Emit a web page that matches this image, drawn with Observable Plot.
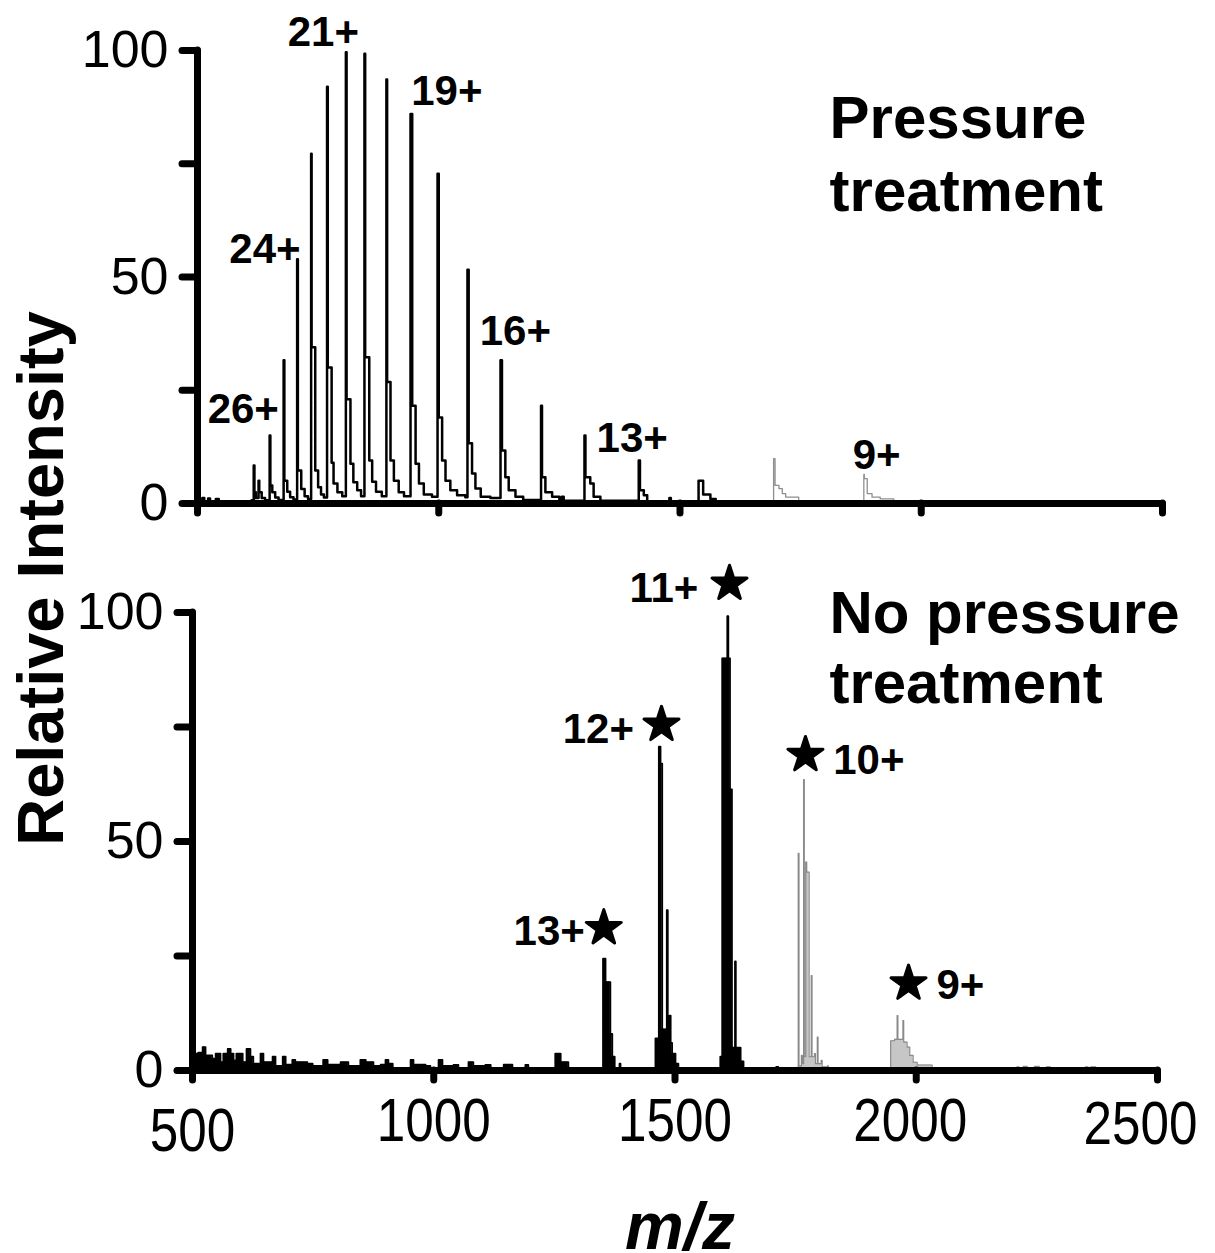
<!DOCTYPE html>
<html><head><meta charset="utf-8">
<script src="https://cdn.jsdelivr.net/npm/d3@7"></script>
<script src="https://cdn.jsdelivr.net/npm/@observablehq/plot@0.6"></script>
<style>
html,body{margin:0;padding:0;background:#fff;}
#wrap{position:relative;width:1215px;height:1253px;overflow:hidden;}
#wrap svg{position:absolute;left:0;overflow:visible;}
</style></head><body><div id="wrap"></div>
<script>
// ---------- axes ----------
const xTicks = [500, 1000, 1500, 2000, 2500];
const xTickLabels = ["500", "1000", "1500", "2000", "2500"];
const yTicks = [0, 25, 50, 75, 100];
const yTickLabels = [0, 50, 100];

// ---------- top panel: pressure treatment [m/z, relative intensity] ----------
const topBlack = [
  [500,0.5],[510,1.2],[514,0.5],[522,1.1],[526,0.5],[538,1.0],[544,0.5],[612,0.7],
  [616.5,8.4],[618,2.5],[621,1.2],[626.5,5],[628,2.5],[633,1.2],[640,0.7],
  [649.5,15],[651,4],[655,2.5],[661,1.3],[668,0.8],
  [678.5,31.6],[680,5],[686,2.6],[692,1.4],[699,0.9],
  [706.5,53.9],[708,7.3],[715,3.2],[722,1.6],[729,1.0],
  [735.5,77.2],[736.5,34.5],[744,7.3],[750,3.6],[756,2.0],[762,1.3],
  [768.5,92],[770,30],[778,9],[782,4.4],[790,2.5],[800,1.6],
  [807.5,99.6],[809,23],[817,8.8],[823,4.7],[831,2.9],[839,1.6],
  [846,99.3],[847.5,32.3],[856,9.5],[862,4.8],[870,2.6],[882,1.6],
  [891.5,93.6],[893,26.8],[900,9.5],[907,5],[917,2.5],[928,1.6],
  [941.5,86],[945,21.6],[952,8.8],[959,4.4],[969,2],[986,1.5],
  [997.5,72.8],[1000,19],[1007,9.5],[1014,5],[1024,2.9],[1038,1.8],[1055,1.4],
  [1059.5,51.6],[1062,13.3],[1069,6.6],[1076,3.3],[1087,1.5],[1107,1.2],
  [1128,31.6],[1131,11.7],[1138,5.8],[1145,2.9],[1159,1.5],[1175,0.8],
  [1212,21.6],[1214,5.8],[1221,2.5],[1235,1.5],[1250,0.7],[1255,1.5],[1259,0.6],
  [1302,15],[1304,5.8],[1314,4.4],[1321,1.5],[1335,0.6],
  [1414.5,9.5],[1417,2.9],[1425,1.8],[1432,0.5],[1478,1.2],[1481,0.5],
  [1538.5,5],[1548,2],[1563,1],[1574,0.4],[1670,0.4]
];
const topGray = [
  [1670,0.4],[1694,9.9],[1697,4],[1705,3.3],[1712,2.2],[1719,1.4],[1746,0.4],
  [1881,6.4],[1882,5.5],[1888,2.2],[1898,1.4],[1915,1],[1943,0.4],[1960,0.4]
];
const topLabelText = ["26+", "24+", "21+", "19+", "16+", "13+", "9+"];
const topLabelMz   = [521, 566, 687, 943, 1085, 1327, 1858];
const topLabelY    = [17.7, 53.2, 101.1, 87.9, 34.9, 11.3, 7.7];
const topTitle   = ["Pressure", "treatment"];
const topTitleMz = [1810, 1810];
const topTitleY  = [80.6, 64.5];

// ---------- bottom panel: no pressure treatment ----------
const bottomBlack = [
  [500,3.7],[506,3.7],[512,3.9],[521,5.1],[527,3.3],[541,2.6],[548,3.7],[558,1.8],[564,3.7],
  [573,4.7],[579,3.7],[585,2.2],[591,3.7],[604,1.8],[612,4.7],[620,3],[626,1.5],[641,3.7],
  [647,1.8],[666,3],[672,1],[687,3],[693,1.3],[707,2.3],[713,1.8],[738,1.5],[749,1],
  [771,2.3],[780,1.3],[807,1.8],[823,1],[848,2.3],[859,1.8],[875,1],[890,1.3],[900,2.3],
  [906,1.5],[915,0.3],[952,2.3],[958,1.3],[983,1],[993,0.3],[1010,2.3],[1018,1],[1041,1.2],
  [1051,0.3],[1072,1.8],[1082,1],[1107,1.2],[1118,0.3],[1145,1.3],[1163,0.3],[1190,1.2],
  [1196,0.3],[1252,3.7],[1263,1.8],[1279,0.3],[1340,0],
  [1351,24.4],[1356,19.3],[1366,8],[1370,3],[1375,0.3],[1385,1.5],[1387,0],
  [1458,0],[1459.5,7],[1466.5,70.7],[1470,67],[1473.5,9],[1483,35],[1485,9],[1488.5,12],
  [1491,6],[1494,3.7],[1501,1.5],[1507,0],
  [1592,0],[1594,3],[1598,90],[1608.5,99.2],[1610.5,90],[1614,61.4],[1618,5],[1624.5,23.8],
  [1626,5],[1636,2],[1642,0],
  [1710,0.8],[1714,0],[1745,0]
];
const bottomGray = [
  [1745,0],[1755.5,47.4],[1757,1],[1762,3.3],[1764,1.5],[1766.5,63.5],[1768,3],[1771,45.5],
  [1773,43.3],[1778,3],[1782.5,20.7],[1784,3],[1789,3.7],[1791,1.5],[1795,7.3],[1796.5,1.5],
  [1803,2.2],[1805,0.8],[1816,1],[1818,0],
  [1947,6.5],[1955,6.8],[1960.5,12],[1962,6.8],[1972.5,10.9],[1974,6.2],[1981,5.1],
  [1986.5,3.3],[1993.5,1.8],[2002,1.2],[2033,0],
  [2209,0.8],[2213,0.5],[2222,0.9],[2230,0.6],[2245,0.9],[2255,0.5],[2270,0.8],[2278,0],
  [2351,0.8],[2356,0.5],[2362,0.8],[2372,0],[2400,0]
];
const starMz = [1352.4, 1472, 1613, 1770.4, 1984];
const starY  = [31.1, 75.5, 106.3, 68.9, 19.0];
const bottomLabelLeftText = ["13+", "12+", "11+"];
const bottomLabelLeftMz   = [1313, 1415, 1548.5];
const bottomLabelLeftY    = [27.5, 71.4, 102.2];
const bottomLabelRightText = ["10+", "9+"];
const bottomLabelRightMz   = [1828, 2042];
const bottomLabelRightY    = [64.8, 15.7];
const bottomTitle   = ["No pressure", "treatment"];
const bottomTitleMz = [1820, 1820];
const bottomTitleY  = [95.6, 80.2];
const yAxisTitle = "Relative Intensity";
const xAxisTitle = "m/z";

// ---------- style ----------
const FONT = "'Liberation Sans', Arial, Helvetica, sans-serif";
const AXW = 7;
const xLabelDx = [0, 0, 0, -6, -17];
const xLabelDy = [37, 27, 27, 27, 30];
const xLabelCharWidth = 28.5;   // condensed digits of the original

const X = d => d[0], Y = d => d[1];

function frameMarks() {
  return [
    Plot.ruleX([500], {y1: 0, y2: 100, stroke: "#000", strokeWidth: AXW, strokeLinecap: "round"}),
    Plot.ruleY([0], {x1: 500, x2: 2500, stroke: "#000", strokeWidth: AXW, strokeLinecap: "round"}),
    Plot.axisY({ticks: yTicks, tickSize: 15, tickPadding: 14, stroke: "#000", strokeWidth: AXW,
      strokeLinecap: "round", fontSize: 52, fill: "#000",
      tickFormat: d => yTickLabels.includes(d) ? String(d) : "", label: null}),
    Plot.axisX({ticks: xTicks, tickSize: 10, stroke: "#000", strokeWidth: AXW, strokeLinecap: "round",
      tickFormat: () => "", label: null})
  ];
}

const topPlot = Plot.plot({
  width: 1215, height: 560,
  marginLeft: 197, marginRight: 53, marginTop: 50, marginBottom: 57,
  x: {domain: [500, 2500]}, y: {domain: [0, 100]},
  style: {fontFamily: FONT, background: "transparent", overflow: "visible", color: "#000"},
  marks: [
    Plot.line(topBlack, {x: X, y: Y, curve: "step-after", stroke: "#000", strokeWidth: 2.5}),
    Plot.line(topGray, {x: X, y: Y, curve: "step-after", stroke: "#8f8f8f", strokeWidth: 1.3}),
    ...frameMarks(),
    Plot.text(topLabelText, {x: (d, i) => topLabelMz[i], y: (d, i) => topLabelY[i], text: d => d,
      textAnchor: "start", lineAnchor: "bottom", fontSize: 42, fontWeight: "bold", fill: "#000"}),
    Plot.text(topTitle, {x: (d, i) => topTitleMz[i], y: (d, i) => topTitleY[i], text: d => d,
      textAnchor: "start", lineAnchor: "bottom", fontSize: 60, fontWeight: "bold", fill: "#000"})
  ]
});

const bottomPlot = Plot.plot({
  width: 1215, height: 693,
  marginLeft: 192, marginRight: 58, marginTop: 52, marginBottom: 183,
  x: {domain: [500, 2500]}, y: {domain: [0, 100]},
  style: {fontFamily: FONT, background: "transparent", overflow: "visible", color: "#000"},
  marks: [
    Plot.areaY(bottomGray, {x: X, y: Y, curve: "step-after", fill: "#c6c6c6"}),
    Plot.line(bottomGray, {x: X, y: Y, curve: "step-after", stroke: "#8a8a8a", strokeWidth: 1.2}),
    Plot.areaY(bottomBlack, {x: X, y: Y, curve: "step-after", fill: "#000"}),
    Plot.line(bottomBlack, {x: X, y: Y, curve: "step-after", stroke: "#000", strokeWidth: 1.8}),
    ...frameMarks(),
    Plot.dot(starMz, {x: d => d, y: (d, i) => starY[i], symbol: "star", r: 11,
      fill: "#000", stroke: "#000", strokeWidth: 3, strokeLinejoin: "round"}),
    Plot.text(bottomLabelLeftText, {x: (d, i) => bottomLabelLeftMz[i], y: (d, i) => bottomLabelLeftY[i],
      text: d => d, textAnchor: "end", lineAnchor: "bottom", fontSize: 42, fontWeight: "bold", fill: "#000"}),
    Plot.text(bottomLabelRightText, {x: (d, i) => bottomLabelRightMz[i], y: (d, i) => bottomLabelRightY[i],
      text: d => d, textAnchor: "start", lineAnchor: "bottom", fontSize: 42, fontWeight: "bold", fill: "#000"}),
    Plot.text(bottomTitle, {x: (d, i) => bottomTitleMz[i], y: (d, i) => bottomTitleY[i], text: d => d,
      textAnchor: "start", lineAnchor: "bottom", fontSize: 60, fontWeight: "bold", fill: "#000"}),
    ...xTicks.map((v, i) => Plot.text([xTickLabels[i]], {x: () => v, y: () => 0, text: d => d,
      dx: xLabelDx[i], dy: xLabelDy[i], textAnchor: "middle", lineAnchor: "top", fontSize: 61, fill: "#000"})),
    Plot.text([yAxisTitle], {frameAnchor: "top-left", text: d => d, rotate: -90, dx: -130, dy: -34,
      textAnchor: "middle", lineAnchor: "bottom", fontSize: 65, fontWeight: "bold", fill: "#000"}),
    Plot.text([xAxisTitle], {frameAnchor: "bottom", text: d => d, dx: 5, dy: 178,
      textAnchor: "middle", lineAnchor: "bottom", fontSize: 66, fontWeight: "bold", fontStyle: "italic", fill: "#000"})
  ]
});

// condense the x tick labels horizontally without moving them
const labelSet = new Set(xTickLabels);
bottomPlot.querySelectorAll("text").forEach(t => {
  if (!labelSet.has(t.textContent)) return;
  t.setAttribute("textLength", String(t.textContent.length * xLabelCharWidth));
  t.setAttribute("lengthAdjust", "spacingAndGlyphs");
});

const wrap = document.getElementById("wrap");
topPlot.style.top = "0px";
bottomPlot.style.top = "560px";
wrap.appendChild(topPlot);
wrap.appendChild(bottomPlot);
</script></body></html>
